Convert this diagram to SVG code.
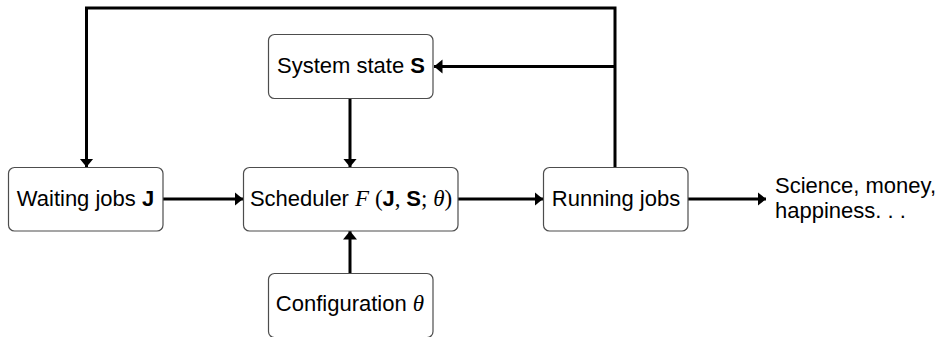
<svg xmlns="http://www.w3.org/2000/svg" width="939" height="337" viewBox="0 0 939 337">
  <style>
    .box { fill: #ffffff; stroke: #4d4d4d; stroke-width: 1.2; }
    .lbl { font-family: "Liberation Sans", Arial, sans-serif; font-size: 22px; fill: #000000; }
    .b { font-weight: bold; }
    .m { font-family: "Liberation Serif", "Times New Roman", serif; font-style: italic; font-size: 23px; }
    .r { font-family: "Liberation Serif", "Times New Roman", serif; font-size: 23px; }
    .edge { fill: none; stroke: #000000; stroke-width: 3; stroke-linejoin: miter; }
  </style>
  <defs>
    <marker id="arrow" markerUnits="userSpaceOnUse" markerWidth="10" markerHeight="15" refX="8.5" refY="7" orient="auto">
      <path d="M0,0 L8.5,7 L0,14 Z" fill="#000000"/>
    </marker>
  </defs>

  <rect width="939" height="337" fill="#ffffff"/>

  <g id="connectors">
    <path class="edge" d="M163,199 H243" marker-end="url(#arrow)"/>
    <path class="edge" d="M458,199 H543" marker-end="url(#arrow)"/>
    <path class="edge" d="M688,199 H766" marker-end="url(#arrow)"/>
    <path class="edge" d="M350,99 V167" marker-end="url(#arrow)"/>
    <path class="edge" d="M350,273 V231" marker-end="url(#arrow)"/>
    <path class="edge" d="M615,167 V8 H86.5 V167" marker-end="url(#arrow)"/>
    <path class="edge" d="M615,66.5 H434" marker-end="url(#arrow)"/>
  </g>

  <g id="waiting">
    <rect class="box" x="8.5" y="167.5" width="154.5" height="63.5" rx="6"/>
    <text class="lbl" x="85.5" y="206" text-anchor="middle">Waiting jobs <tspan class="b">J</tspan></text>
  </g>

  <g id="scheduler">
    <rect class="box" x="243.5" y="167.5" width="214.5" height="63.5" rx="6"/>
    <text class="lbl" x="351" y="206" text-anchor="middle">Scheduler <tspan class="m">F</tspan><tspan class="r"> (</tspan><tspan class="b">J</tspan><tspan class="r">, </tspan><tspan class="b">S</tspan><tspan class="r">; </tspan><tspan class="m">θ</tspan><tspan class="r">)</tspan></text>
  </g>

  <g id="running">
    <rect class="box" x="543.5" y="167.5" width="144.5" height="63.5" rx="6"/>
    <text class="lbl" x="616" y="206" text-anchor="middle">Running jobs</text>
  </g>

  <g id="system-state">
    <rect class="box" x="268.5" y="34.5" width="164.5" height="64" rx="6"/>
    <text class="lbl" x="351" y="72.5" text-anchor="middle">System state <tspan class="b">S</tspan></text>
  </g>

  <g id="configuration">
    <rect class="box" x="268.5" y="273.5" width="164.5" height="64" rx="6"/>
    <text class="lbl" x="350" y="311" text-anchor="middle">Configuration <tspan class="m">θ</tspan></text>
  </g>

  <g id="outcome">
    <text class="lbl" x="775" y="192.5">Science, money,</text>
    <text class="lbl" x="775" y="218">happiness. . .</text>
  </g>
</svg>
